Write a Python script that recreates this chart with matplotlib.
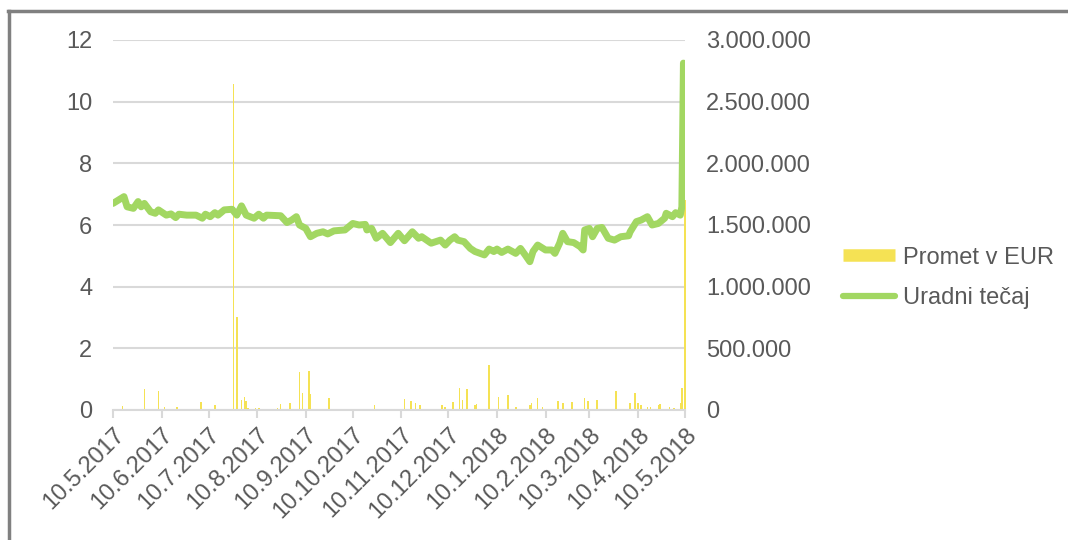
import numpy as np
import pandas as pd
import matplotlib
matplotlib.use("Agg")
import matplotlib.pyplot as plt
from matplotlib.lines import Line2D
from matplotlib.ticker import FuncFormatter

plt.rcParams['font.family'] = ['Liberation Sans', 'DejaVu Sans']

start = pd.Timestamp('2017-05-10')

# Uradni tecaj (left axis), days counted from 10.5.2017
line_days = [0, 7, 9, 13, 16, 18, 20, 24, 27, 29, 34, 37, 40, 42, 47, 53, 57, 59, 62, 65,
             67, 71, 76, 79, 82, 85, 90, 93, 96, 98, 107, 111, 114, 117, 119, 123, 126, 130,
             134, 137, 141, 148, 153, 157, 161, 162, 165, 168, 172, 177, 182, 186, 191, 195,
             197, 203, 209, 212, 215, 218, 220, 224, 228, 231, 237, 240, 243, 245, 248, 252,
             257, 260, 263, 266, 268, 271, 276, 280, 282, 285, 287, 290, 294, 298, 300, 301,
             304, 306, 309, 312, 316, 320, 324, 329, 330, 334, 337, 341, 344, 348, 352, 353,
             357, 359, 362, 363, 364, 365]
line_vals = [6.70, 6.92, 6.59, 6.54, 6.76, 6.59, 6.70, 6.43, 6.38, 6.49, 6.32, 6.36, 6.24, 6.35,
             6.32, 6.32, 6.22, 6.35, 6.27, 6.40, 6.32, 6.49, 6.51, 6.32, 6.62, 6.32, 6.22, 6.35,
             6.22, 6.32, 6.30, 6.08, 6.16, 6.27, 6.00, 5.89, 5.62, 5.73, 5.78, 5.71, 5.81, 5.84,
             6.05, 6.00, 6.02, 5.84, 5.89, 5.57, 5.73, 5.43, 5.73, 5.49, 5.78, 5.57, 5.62, 5.41,
             5.51, 5.35, 5.51, 5.62, 5.51, 5.46, 5.24, 5.14, 5.03, 5.22, 5.14, 5.22, 5.11, 5.22,
             5.08, 5.24, 5.03, 4.81, 5.14, 5.35, 5.19, 5.19, 5.08, 5.41, 5.73, 5.46, 5.43, 5.30,
             5.19, 5.84, 5.89, 5.62, 5.89, 5.92, 5.57, 5.51, 5.62, 5.65, 5.78, 6.11, 6.16, 6.27,
             6.00, 6.05, 6.22, 6.38, 6.27, 6.40, 6.32, 6.59, 11.25, 11.15]

# Promet v EUR (right axis)
bar_days = [6, 20, 29, 33, 41, 56, 65, 77, 79, 82, 84, 85, 86, 91, 93, 97, 105, 107, 113, 119,
            121, 125, 126, 138, 144, 159, 167, 180, 186, 190, 193, 196, 210, 212, 217, 221, 223,
            226, 231, 232, 240, 246, 252, 257, 266, 267, 271, 274, 284, 287, 293, 301, 303, 309,
            321, 330, 333, 335, 337, 341, 343, 348, 349, 355, 358, 362, 363, 365]
bar_vals = [32000, 168000, 157000, 25000, 25000, 62000, 40000, 2640000, 757000, 81000, 103000,
            75000, 20000, 20000, 20000, 12000, 15000, 47000, 55000, 311000, 140000, 319000,
            130000, 100000, 12000, 12000, 40000, 12000, 87000, 75000, 55000, 40000, 40000, 25000,
            67000, 176000, 80000, 170000, 40000, 47000, 365000, 108000, 119000, 25000, 40000,
            55000, 95000, 25000, 75000, 55000, 62000, 100000, 75000, 80000, 154000, 60000,
            135000, 55000, 40000, 25000, 25000, 40000, 47000, 25000, 15000, 55000, 176000, 1700000]

tick_dates = pd.date_range('2017-05-01', '2018-05-01', freq='MS') + pd.Timedelta(days=9)
tick_labels = [f"{d.day}.{d.month}.{d.year}" for d in tick_dates]

line_x = start + pd.to_timedelta(line_days, unit='D')
bar_x = start + pd.to_timedelta(bar_days, unit='D')

txt = '#595959'
grid_c = '#D9D9D9'
yellow = '#F5E254'
green = '#A2D762'
fs = 17

fig = plt.figure(figsize=(10.68, 5.40), dpi=100)
ax = fig.add_axes([113 / 1068, 130 / 540, 572 / 1068, 370 / 540])
ax2 = ax.twinx()

bars = ax2.bar(bar_x, bar_vals, width=1.0, color=yellow, linewidth=0)
for b in bars:
    b.set_clip_on(False)
ax2.set_ylim(0, 3000000)
ax2.set_yticks(np.arange(0, 3000001, 500000))
ax2.yaxis.set_major_formatter(FuncFormatter(lambda v, p: f"{int(v):,}".replace(',', '.')))
ax2.grid(axis='y', color=grid_c, linewidth=1.5)
ax2.set_axisbelow(True)

ax.plot(line_x, line_vals, color=green, linewidth=5, solid_joinstyle='round', solid_capstyle='round')
ax.set_ylim(0, 12)
ax.set_yticks(np.arange(0, 13, 2))
ax.set_xlim(start, pd.Timestamp('2018-05-10'))
ax.set_xticks(tick_dates)
ax.set_xticklabels(tick_labels, rotation=45, ha='right', rotation_mode='anchor')

ax.set_zorder(ax2.get_zorder() + 1)
ax.patch.set_visible(False)

for a in (ax, ax2):
    for s in a.spines.values():
        s.set_visible(False)
    a.tick_params(axis='y', length=0, labelsize=fs, labelcolor=txt, pad=15)
ax.spines['bottom'].set_visible(True)
ax.spines['bottom'].set_color(grid_c)
ax.spines['bottom'].set_linewidth(1.5)
ax.tick_params(axis='x', direction='out', length=6, width=1.5, color=grid_c,
               labelsize=fs, labelcolor=txt, pad=4)

handles = [Line2D([0], [0], color=yellow, linewidth=9, solid_capstyle='butt'),
           Line2D([0], [0], color=green, linewidth=4.5, solid_capstyle='round')]
fig.legend(handles, ['Promet v EUR', 'Uradni tečaj'], loc='center left',
           bbox_to_anchor=(843 / 1068, 1 - 278 / 540), frameon=False, fontsize=fs,
           labelcolor=txt, handlelength=2.2, handletextpad=0.35, labelspacing=0.8,
           borderpad=0, borderaxespad=0)

# outer frame (top and left edges visible)
fig.add_artist(Line2D([8 / 1068, 1], [1 - 11 / 540, 1 - 11 / 540], transform=fig.transFigure,
                      color='#808080', linewidth=2.5))
fig.add_artist(Line2D([9 / 1068, 9 / 1068], [0, 1 - 11 / 540], transform=fig.transFigure,
                      color='#808080', linewidth=2.5))

fig.savefig('out.png', dpi=100)
